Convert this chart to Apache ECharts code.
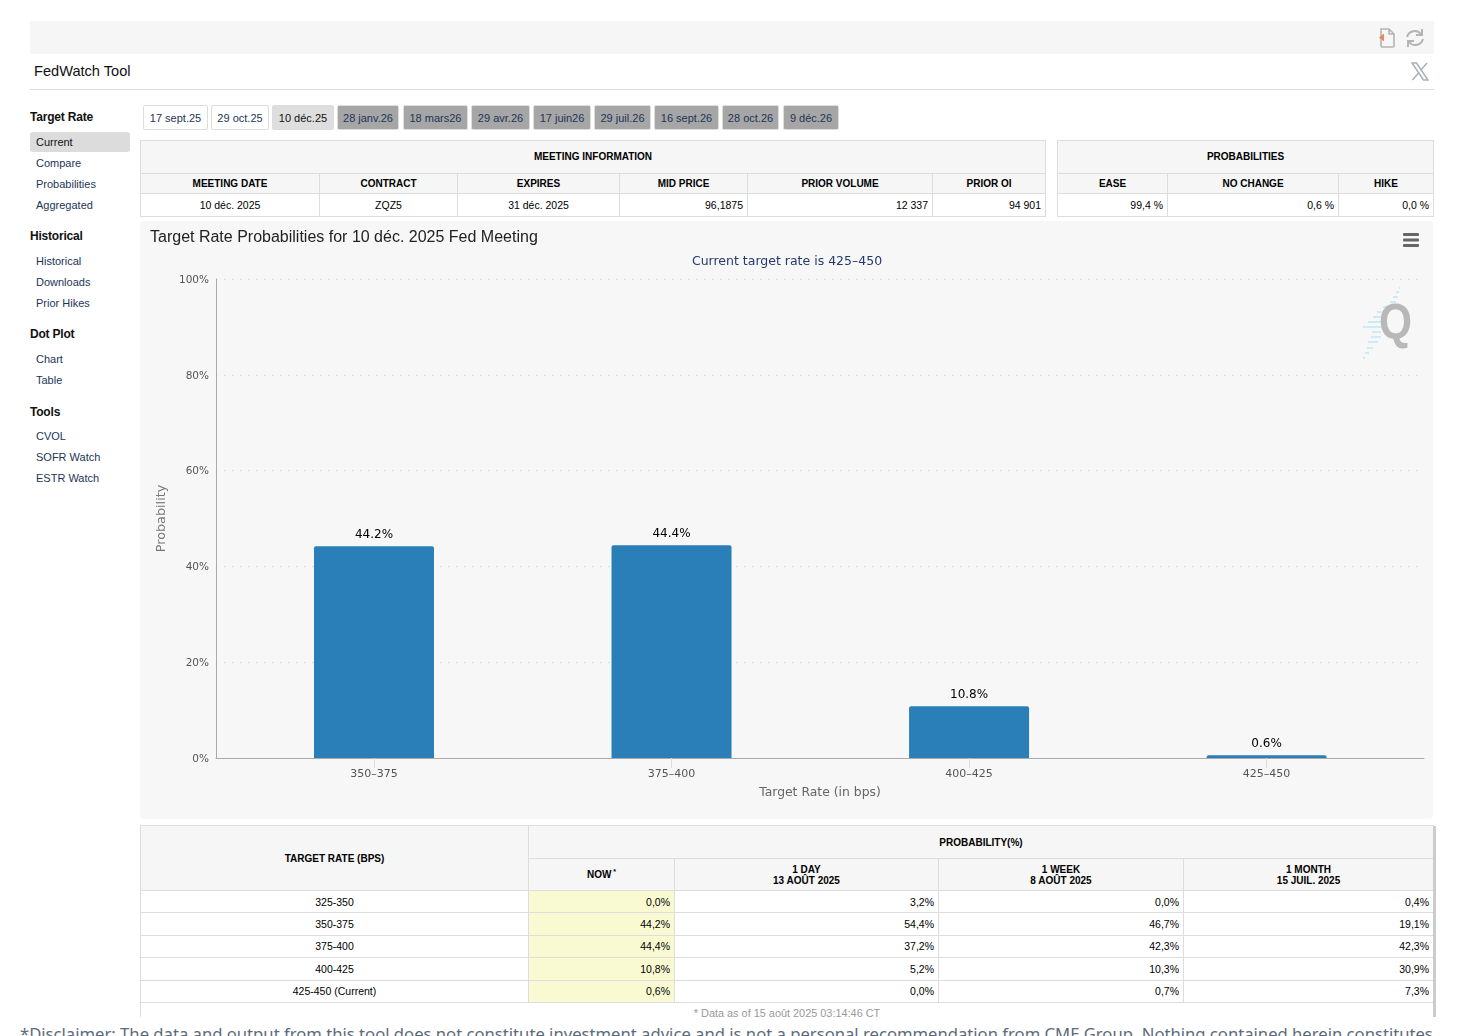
<!DOCTYPE html>
<html lang="fr">
<head>
<meta charset="utf-8">
<title>FedWatch Tool</title>
<script src="https://cdn.jsdelivr.net/npm/echarts@6/dist/echarts.min.js"></script>
<style>
    html, body { margin: 0; padding: 0; background: #fff; overflow: hidden; height: 1036px; }
    body { font-family: "Liberation Sans", Arial, sans-serif; color: #000; position: relative; width: 1471px; }
    .abs { position: absolute; white-space: nowrap; }
    #topbar { left: 30px; top: 21px; width: 1404px; height: 33px; background: #f6f6f6; }
    #apptitle { left: 34px; top: 62px; font-size: 14.6px; line-height: 18px; color: #111; }
    #rule { left: 30px; top: 89px; width: 1404px; height: 1px; background: #ddd; }
    .side-head { left: 30px; font-size: 12px; letter-spacing: -0.2px; font-weight: bold; line-height: 14px; color: #111; }
    .side-item { left: 36px; font-size: 11px; line-height: 14px; color: #1d3557; }
    #side-active { left: 30px; top: 132px; width: 100px; height: 20px; background: #dcdcdc; border-radius: 3px; }
    .tab { top: 105px; height: 23px; line-height: 25px; box-sizing: content-box; text-align: center; font-size: 11px; color: #1d3557; border: 1px solid #ddd; border-radius: 2px; }
    .tab.open { background: #fff; }
    .tab.sel { background: #dedede; color: #111; }
    .tab.far { background: #a6a6a6; }
    table { position: absolute; border-collapse: collapse; table-layout: fixed; font-size: 10.5px; color: #000; }
    th, td { border: 1px solid #ddd; padding: 0 4px; overflow: hidden; }
    th { background: #f6f6f6; font-weight: bold; font-size: 10px; line-height: 11px; text-align: center; }
    td.c { text-align: center; }
    td.r { text-align: right; }
    td.now { background: #fafad2; }
    td.asof { text-align: center; vertical-align: top; padding-top: 4px; font-size: 10.9px; line-height: 12px; color: #999; }
    #main { position: absolute; left: 140px; top: 221px; width: 1293px; height: 598px; border-radius: 4px; overflow: hidden; }
    #tablewrap { position: absolute; left: 140px; top: 825px; width: 1297px; height: 192px; overflow: hidden; }
    #shade { position: absolute; left: 1293px; top: 1px; width: 3px; height: 192px; background: #ccc; }
    #disclaimer { left: 20px; top: 1023px; font-family: "Noto Sans", sans-serif; font-size: 16.65px; line-height: 22px; color: #5b6b7b; }
</style>
</head>
<body>

<div class="abs" id="topbar"></div>
<svg class="abs" style="left:1376px;top:27px" width="48" height="22" viewBox="0 0 48 22">
    <path d="M5 2h8l5 5v12a1 1 0 0 1-1 1H6a1 1 0 0 1-1-1z M13 2v5h5" fill="none" stroke="#b4b4b4" stroke-width="1.6"/>
    <path d="M3 10.500l5 -4v8z" fill="#e8875a"/>
    <path d="M31 10a8 8 0 0 1 14-3 M47 12a8 8 0 0 1-14 3" fill="none" stroke="#b4b4b4" stroke-width="2"/>
    <path d="M46 2v6h-6 M32 20v-6h6" fill="none" stroke="#b4b4b4" stroke-width="2"/>
</svg>
<div class="abs" id="apptitle">FedWatch Tool</div>
<svg class="abs" style="left:1411px;top:62px" width="18" height="19" viewBox="0 0 18 19">
    <path d="M1 1h4.5l11.500 17h-4.500z" fill="none" stroke="#aab0b8" stroke-width="1.500"/>
    <path d="M16 1l-6.500 7.500M8 10.500l-6.500 7.500" fill="none" stroke="#aab0b8" stroke-width="1.500"/>
</svg>
<div class="abs" id="rule"></div>
<div class="abs" id="side-active"></div>
<div id="sidebar"></div>
<div id="tabs"></div>

<table id="meeting" style="left:140px;top:139.5px;width:905px;"></table>
<table id="probs" style="left:1057px;top:139.5px;width:376px;"></table>

<div id="main"></div>

<div id="tablewrap">
    <table id="history" style="left:0;top:0;width:1293px;"></table>
    <div id="shade"></div>
</div>
<div class="abs" id="disclaimer">*Disclaimer: The data and output from this tool does not constitute investment advice and is not a personal recommendation from CME Group. Nothing contained herein constitutes</div>

<script>
    // chart data
    var categories = ['350-375', '375-400', '400-425', '425-450'];
    var probabilities = [44.2, 44.4, 10.8, 0.6];
    var yTickStep = 20;

    // page text
    var sideGroups = [
        ['Target Rate', 117, [['Current', 142], ['Compare', 163], ['Probabilities', 184], ['Aggregated', 205]]],
        ['Historical', 236, [['Historical', 261], ['Downloads', 282], ['Prior Hikes', 303]]],
        ['Dot Plot', 334, [['Chart', 359], ['Table', 380]]],
        ['Tools', 412, [['CVOL', 436], ['SOFR Watch', 457], ['ESTR Watch', 478]]]
    ];
    var tabNames = ['17 sept.25', '29 oct.25', '10 déc.25', '28 janv.26', '18 mars26', '29 avr.26', '17 juin26', '29 juil.26', '16 sept.26', '28 oct.26', '9 déc.26'];
    var tabLefts = [143, 211, 272, 337, 403, 471, 533, 594, 654, 722, 783];
    var tabWidths = [65, 58, 62, 62, 65, 59, 58, 57, 65, 57, 56];

    var historyRates = ['325-350', '350-375', '375-400', '400-425', '425-450 (Current)'];
    var historyNow = [0.0, 44.2, 44.4, 10.8, 0.6];
    var historyDay = [3.2, 54.4, 37.2, 5.2, 0.0];
    var historyWeek = [0.0, 46.7, 42.3, 10.3, 0.7];
    var historyMonth = [0.4, 19.1, 42.3, 30.9, 7.3];

    function pct(v) {
        return v.toFixed(1).replace('.', ',') + '%';
    }

    function addDiv(cls, left, top, text, width) {
        var d = document.createElement('div');
        d.className = 'abs ' + cls;
        d.style.left = left + 'px';
        d.style.top = top + 'px';
        if (width) d.style.width = width + 'px';
        d.textContent = text;
        return d;
    }

    var sidebar = document.getElementById('sidebar');
    sideGroups.forEach(function (g) {
        sidebar.appendChild(addDiv('side-head', 30, g[1] - 7, g[0]));
        g[2].forEach(function (item) {
            var d = addDiv('side-item', 36, item[1] - 7, item[0]);
            if (item[0] === 'Current') d.style.color = '#111';
            sidebar.appendChild(d);
        });
    });

    var tabs = document.getElementById('tabs');
    tabNames.forEach(function (name, i) {
        var cls = 'tab ' + (i < 2 ? 'open' : i === 2 ? 'sel' : 'far');
        tabs.appendChild(addDiv(cls, tabLefts[i], 105, name, tabWidths[i] - 2));
    });

    document.getElementById('meeting').innerHTML =
        '<colgroup><col style="width:179px"><col style="width:138px"><col style="width:162px"><col style="width:128px"><col style="width:185px"><col style="width:113px"></colgroup>' +
        '<tr style="height:33px"><th colspan="6">MEETING INFORMATION</th></tr>' +
        '<tr style="height:20.5px"><th>MEETING DATE</th><th>CONTRACT</th><th>EXPIRES</th><th>MID PRICE</th><th>PRIOR VOLUME</th><th>PRIOR OI</th></tr>' +
        '<tr style="height:23px"><td class="c">10 déc. 2025</td><td class="c">ZQZ5</td><td class="c">31 déc. 2025</td><td class="r">96,1875</td><td class="r">12 337</td><td class="r">94 901</td></tr>';

    document.getElementById('probs').innerHTML =
        '<colgroup><col style="width:110px"><col style="width:171px"><col style="width:95px"></colgroup>' +
        '<tr style="height:33px"><th colspan="3">PROBABILITIES</th></tr>' +
        '<tr style="height:20.5px"><th>EASE</th><th>NO CHANGE</th><th>HIKE</th></tr>' +
        '<tr style="height:23px"><td class="r">99,4 %</td><td class="r">0,6 %</td><td class="r">0,0 %</td></tr>';

    var historyHtml =
        '<colgroup><col style="width:388px"><col style="width:146px"><col style="width:264px"><col style="width:245px"><col style="width:250px"></colgroup>' +
        '<tr style="height:33px"><th rowspan="2">TARGET RATE (BPS)</th><th colspan="4">PROBABILITY(%)</th></tr>' +
        '<tr style="height:32px"><th>NOW<sup style="font-size:7px;line-height:0"> *</sup></th><th>1 DAY<br>13 AOÛT 2025</th><th>1 WEEK<br>8 AOÛT 2025</th><th>1 MONTH<br>15 JUIL. 2025</th></tr>';
    historyRates.forEach(function (rate, i) {
        historyHtml += '<tr style="height:22.4px"><td class="c">' + rate + '</td><td class="r now">' + pct(historyNow[i]) +
            '</td><td class="r">' + pct(historyDay[i]) + '</td><td class="r">' + pct(historyWeek[i]) + '</td><td class="r">' + pct(historyMonth[i]) + '</td></tr>';
    });
    historyHtml += '<tr style="height:30px"><td class="asof" colspan="5">* Data as of 15 août 2025 03:14:46 CT</td></tr>';
    document.getElementById('history').innerHTML = historyHtml;

    // pale blue streak behind the Q of the watermark
    var streakRows = [
        [1399, 287, 1], [1396, 291, 3], [1393, 296, 5], [1390, 301, 6], [1383, 306, 10], [1377, 311, 5],
        [1373, 316, 8], [1368, 321, 13], [1363, 326, 18], [1372, 331, 9], [1371, 336, 10], [1368, 341, 10],
        [1367, 347, 6], [1365, 352, 4], [1363, 357, 2]
    ];

    var chart = echarts.init(document.getElementById('main'));
    var labelFont = '"DejaVu Sans", sans-serif';

    var graphics = streakRows.map(function (r) {
        return {
            type: 'rect',
            left: r[0] - 140,
            top: r[1] - 221,
            shape: { width: r[2], height: 2 },
            style: { fill: '#cdeaf6' },
            silent: true
        };
    });
    graphics.push({
        type: 'text',
        x: 1379 - 140,
        y: 300 - 221,
        scaleX: 0.85,
        style: { text: 'Q', font: 'bold 50px "Liberation Sans", sans-serif', fill: '#b8b8b8' },
        silent: true
    });
    // context menu icon
    [233, 238.5, 244].forEach(function (y) {
        graphics.push({
            type: 'rect',
            left: 1403 - 140,
            top: y - 221,
            shape: { width: 16, height: 3, r: 1 },
            style: { fill: '#666' },
            silent: true
        });
    });

    chart.setOption({
        backgroundColor: '#f7f7f7',
        animation: false,
        title: [{
            text: 'Target Rate Probabilities for 10 déc. 2025 Fed Meeting',
            left: 5,
            top: 4,
            textStyle: { fontFamily: '"Liberation Sans", Arial, sans-serif', fontSize: 16, fontWeight: 'normal', color: '#222' }
        }, {
            text: 'Current target rate is 425–450',
            left: 642,
            top: 29,
            textAlign: 'center',
            textStyle: { fontFamily: labelFont, fontSize: 12.5, fontWeight: 'normal', color: '#243a6b' }
        }],
        grid: { left: 76, right: 9, top: 58, bottom: 61, containLabel: false },
        xAxis: {
            type: 'value',
            min: -0.531,
            max: 3.529,
            name: 'Target Rate (in bps)',
            nameLocation: 'middle',
            nameGap: 29,
            nameTextStyle: { fontFamily: labelFont, fontSize: 12.4, color: '#666' },
            axisLine: { show: true, onZero: false, lineStyle: { color: '#aaa' } },
            axisTick: { show: true, customValues: [0, 1, 2, 3], length: 10, lineStyle: { color: '#ddd' } },
            axisLabel: {
                customValues: [0, 1, 2, 3],
                margin: 11,
                fontFamily: labelFont,
                fontSize: 11,
                color: '#555',
                formatter: function (v) { return categories[v].replace('-', '–'); }
            },
            splitLine: { show: false }
        },
        yAxis: {
            type: 'value',
            min: 0,
            max: 100,
            interval: yTickStep,
            name: 'Probability',
            nameLocation: 'middle',
            nameGap: 46,
            nameTextStyle: { fontFamily: labelFont, fontSize: 12.8, color: '#777' },
            axisLine: { show: true, onZero: false, lineStyle: { color: '#aaa' } },
            axisTick: { show: false },
            axisLabel: {
                margin: 7,
                verticalAlign: 'top',
                lineHeight: 2,
                fontFamily: labelFont,
                fontSize: 10.5,
                color: '#555',
                formatter: '{value}%'
            },
            splitLine: { show: true, lineStyle: { color: '#d8d8d8', type: [1.5, 6.5] } }
        },
        series: [{
            type: 'bar',
            barWidth: 120,
            data: probabilities.map(function (v, i) { return [i, v]; }),
            itemStyle: { color: '#2a7fb8', borderRadius: [2, 2, 0, 0] },
            label: {
                show: true,
                position: 'top',
                distance: 5,
                fontFamily: labelFont,
                fontSize: 12,
                color: '#000',
                formatter: function (p) { return p.value[1].toFixed(1) + '%'; }
            }
        }],
        graphic: graphics
    });
</script>
</body>
</html>
